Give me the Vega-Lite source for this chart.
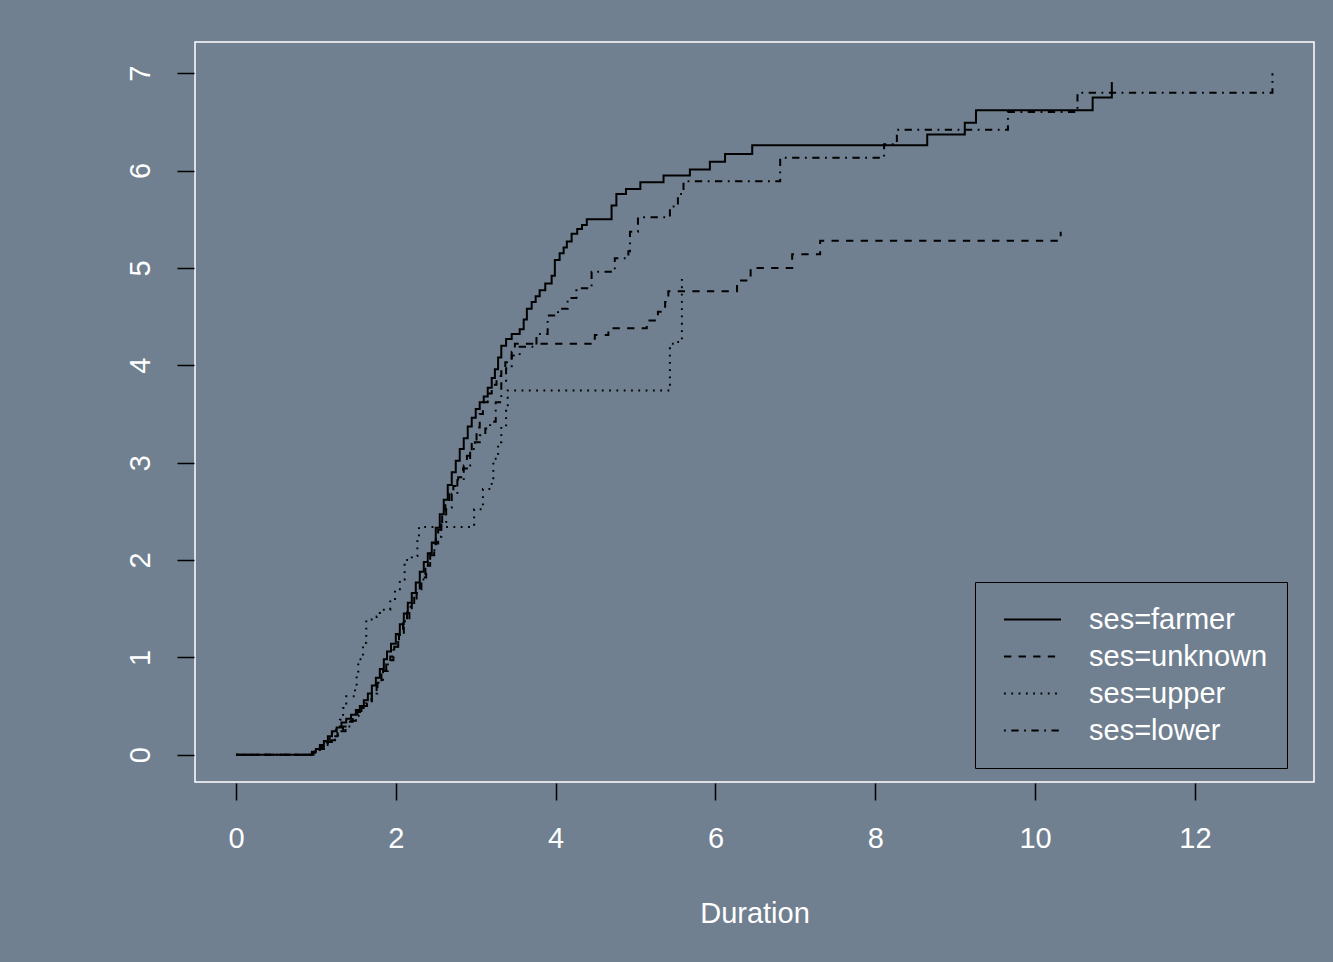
{
  "$schema": "https://vega.github.io/schema/vega-lite/v6.json",
  "width": 1119,
  "height": 740,
  "autosize": {"type": "none"},
  "padding": {"left": 195, "top": 42, "right": 19, "bottom": 180},
  "background": "#708090",
  "config": {
    "view": {"stroke": "white", "strokeWidth": 1.5},
    "font": "Liberation Sans"
  },
  "data": {
    "values": [
      {"ses": "farmer", "t": 0, "h": 0},
      {"ses": "farmer", "t": 0.88, "h": 0.0},
      {"ses": "farmer", "t": 0.95, "h": 0.03},
      {"ses": "farmer", "t": 1.0, "h": 0.06},
      {"ses": "farmer", "t": 1.05, "h": 0.1},
      {"ses": "farmer", "t": 1.1, "h": 0.14},
      {"ses": "farmer", "t": 1.15, "h": 0.19},
      {"ses": "farmer", "t": 1.2, "h": 0.24},
      {"ses": "farmer", "t": 1.26, "h": 0.28},
      {"ses": "farmer", "t": 1.32, "h": 0.33},
      {"ses": "farmer", "t": 1.38, "h": 0.37},
      {"ses": "farmer", "t": 1.44, "h": 0.41},
      {"ses": "farmer", "t": 1.5, "h": 0.46},
      {"ses": "farmer", "t": 1.55, "h": 0.5},
      {"ses": "farmer", "t": 1.6, "h": 0.56},
      {"ses": "farmer", "t": 1.65, "h": 0.63},
      {"ses": "farmer", "t": 1.7, "h": 0.71},
      {"ses": "farmer", "t": 1.75, "h": 0.79},
      {"ses": "farmer", "t": 1.8, "h": 0.88},
      {"ses": "farmer", "t": 1.85, "h": 0.98},
      {"ses": "farmer", "t": 1.89, "h": 1.06},
      {"ses": "farmer", "t": 1.94, "h": 1.14},
      {"ses": "farmer", "t": 2.0, "h": 1.24},
      {"ses": "farmer", "t": 2.05, "h": 1.34},
      {"ses": "farmer", "t": 2.1, "h": 1.45},
      {"ses": "farmer", "t": 2.15, "h": 1.56},
      {"ses": "farmer", "t": 2.2, "h": 1.66},
      {"ses": "farmer", "t": 2.25, "h": 1.77},
      {"ses": "farmer", "t": 2.3, "h": 1.88},
      {"ses": "farmer", "t": 2.35, "h": 1.98},
      {"ses": "farmer", "t": 2.4, "h": 2.07},
      {"ses": "farmer", "t": 2.45, "h": 2.18},
      {"ses": "farmer", "t": 2.5, "h": 2.33},
      {"ses": "farmer", "t": 2.55, "h": 2.47},
      {"ses": "farmer", "t": 2.6, "h": 2.62},
      {"ses": "farmer", "t": 2.65, "h": 2.77},
      {"ses": "farmer", "t": 2.7, "h": 2.9},
      {"ses": "farmer", "t": 2.75, "h": 3.02},
      {"ses": "farmer", "t": 2.8, "h": 3.14},
      {"ses": "farmer", "t": 2.85, "h": 3.25},
      {"ses": "farmer", "t": 2.9, "h": 3.37},
      {"ses": "farmer", "t": 2.95, "h": 3.46},
      {"ses": "farmer", "t": 3.0, "h": 3.55},
      {"ses": "farmer", "t": 3.05, "h": 3.62},
      {"ses": "farmer", "t": 3.1, "h": 3.68},
      {"ses": "farmer", "t": 3.15, "h": 3.77},
      {"ses": "farmer", "t": 3.2, "h": 3.87},
      {"ses": "farmer", "t": 3.24, "h": 3.96},
      {"ses": "farmer", "t": 3.28, "h": 4.08},
      {"ses": "farmer", "t": 3.32, "h": 4.2},
      {"ses": "farmer", "t": 3.38, "h": 4.27},
      {"ses": "farmer", "t": 3.45, "h": 4.32},
      {"ses": "farmer", "t": 3.55, "h": 4.37},
      {"ses": "farmer", "t": 3.6, "h": 4.47},
      {"ses": "farmer", "t": 3.64, "h": 4.58},
      {"ses": "farmer", "t": 3.7, "h": 4.65},
      {"ses": "farmer", "t": 3.75, "h": 4.71},
      {"ses": "farmer", "t": 3.8, "h": 4.77},
      {"ses": "farmer", "t": 3.87, "h": 4.84},
      {"ses": "farmer", "t": 3.95, "h": 4.92},
      {"ses": "farmer", "t": 3.99, "h": 5.08},
      {"ses": "farmer", "t": 4.05, "h": 5.15},
      {"ses": "farmer", "t": 4.1, "h": 5.21},
      {"ses": "farmer", "t": 4.14, "h": 5.27},
      {"ses": "farmer", "t": 4.2, "h": 5.35},
      {"ses": "farmer", "t": 4.27, "h": 5.4},
      {"ses": "farmer", "t": 4.33, "h": 5.44},
      {"ses": "farmer", "t": 4.39, "h": 5.5},
      {"ses": "farmer", "t": 4.7, "h": 5.64},
      {"ses": "farmer", "t": 4.76, "h": 5.76},
      {"ses": "farmer", "t": 4.88, "h": 5.81},
      {"ses": "farmer", "t": 5.06, "h": 5.88},
      {"ses": "farmer", "t": 5.35, "h": 5.95},
      {"ses": "farmer", "t": 5.68, "h": 6.01},
      {"ses": "farmer", "t": 5.93, "h": 6.09},
      {"ses": "farmer", "t": 6.12, "h": 6.17},
      {"ses": "farmer", "t": 6.46, "h": 6.26},
      {"ses": "farmer", "t": 8.65, "h": 6.37},
      {"ses": "farmer", "t": 9.12, "h": 6.49},
      {"ses": "farmer", "t": 9.26, "h": 6.62},
      {"ses": "farmer", "t": 10.72, "h": 6.75},
      {"ses": "farmer", "t": 10.96, "h": 6.91},

      {"ses": "unknown", "t": 0, "h": 0},
      {"ses": "unknown", "t": 0.9, "h": 0.0},
      {"ses": "unknown", "t": 0.97, "h": 0.03},
      {"ses": "unknown", "t": 1.05, "h": 0.08},
      {"ses": "unknown", "t": 1.12, "h": 0.13},
      {"ses": "unknown", "t": 1.2, "h": 0.19},
      {"ses": "unknown", "t": 1.27, "h": 0.24},
      {"ses": "unknown", "t": 1.34, "h": 0.29},
      {"ses": "unknown", "t": 1.4, "h": 0.34},
      {"ses": "unknown", "t": 1.46, "h": 0.39},
      {"ses": "unknown", "t": 1.52, "h": 0.44},
      {"ses": "unknown", "t": 1.59, "h": 0.5},
      {"ses": "unknown", "t": 1.64, "h": 0.57},
      {"ses": "unknown", "t": 1.7, "h": 0.65},
      {"ses": "unknown", "t": 1.76, "h": 0.74},
      {"ses": "unknown", "t": 1.82, "h": 0.83},
      {"ses": "unknown", "t": 1.88, "h": 0.93},
      {"ses": "unknown", "t": 1.93, "h": 1.01},
      {"ses": "unknown", "t": 1.98, "h": 1.11},
      {"ses": "unknown", "t": 2.04, "h": 1.23},
      {"ses": "unknown", "t": 2.09, "h": 1.35},
      {"ses": "unknown", "t": 2.14, "h": 1.46},
      {"ses": "unknown", "t": 2.2, "h": 1.58},
      {"ses": "unknown", "t": 2.26, "h": 1.7},
      {"ses": "unknown", "t": 2.32, "h": 1.82},
      {"ses": "unknown", "t": 2.38, "h": 1.94},
      {"ses": "unknown", "t": 2.43, "h": 2.05},
      {"ses": "unknown", "t": 2.48, "h": 2.17},
      {"ses": "unknown", "t": 2.53, "h": 2.31},
      {"ses": "unknown", "t": 2.58, "h": 2.46},
      {"ses": "unknown", "t": 2.62, "h": 2.59},
      {"ses": "unknown", "t": 2.67, "h": 2.68},
      {"ses": "unknown", "t": 2.72, "h": 2.76},
      {"ses": "unknown", "t": 2.78, "h": 2.85},
      {"ses": "unknown", "t": 2.84, "h": 2.94},
      {"ses": "unknown", "t": 2.89, "h": 3.07},
      {"ses": "unknown", "t": 2.95, "h": 3.22},
      {"ses": "unknown", "t": 3.01, "h": 3.36},
      {"ses": "unknown", "t": 3.05, "h": 3.5},
      {"ses": "unknown", "t": 3.09, "h": 3.62},
      {"ses": "unknown", "t": 3.15, "h": 3.71},
      {"ses": "unknown", "t": 3.2, "h": 3.8},
      {"ses": "unknown", "t": 3.26, "h": 3.89},
      {"ses": "unknown", "t": 3.32, "h": 3.97},
      {"ses": "unknown", "t": 3.37, "h": 4.03},
      {"ses": "unknown", "t": 3.45, "h": 4.14},
      {"ses": "unknown", "t": 3.49, "h": 4.22},
      {"ses": "unknown", "t": 4.49, "h": 4.31},
      {"ses": "unknown", "t": 4.66, "h": 4.38},
      {"ses": "unknown", "t": 5.14, "h": 4.46},
      {"ses": "unknown", "t": 5.28, "h": 4.55},
      {"ses": "unknown", "t": 5.37, "h": 4.65},
      {"ses": "unknown", "t": 5.41, "h": 4.76},
      {"ses": "unknown", "t": 6.27, "h": 4.87},
      {"ses": "unknown", "t": 6.44, "h": 5.0},
      {"ses": "unknown", "t": 6.96, "h": 5.14},
      {"ses": "unknown", "t": 7.31, "h": 5.28},
      {"ses": "unknown", "t": 10.32, "h": 5.37},

      {"ses": "upper", "t": 0, "h": 0},
      {"ses": "upper", "t": 0.92, "h": 0.0},
      {"ses": "upper", "t": 0.97, "h": 0.02},
      {"ses": "upper", "t": 1.04, "h": 0.07},
      {"ses": "upper", "t": 1.1, "h": 0.12},
      {"ses": "upper", "t": 1.15, "h": 0.17},
      {"ses": "upper", "t": 1.2, "h": 0.22},
      {"ses": "upper", "t": 1.25, "h": 0.29},
      {"ses": "upper", "t": 1.3, "h": 0.36},
      {"ses": "upper", "t": 1.34, "h": 0.48},
      {"ses": "upper", "t": 1.38, "h": 0.6},
      {"ses": "upper", "t": 1.49, "h": 0.69},
      {"ses": "upper", "t": 1.51, "h": 0.84},
      {"ses": "upper", "t": 1.53, "h": 0.98},
      {"ses": "upper", "t": 1.59, "h": 1.15},
      {"ses": "upper", "t": 1.63, "h": 1.39},
      {"ses": "upper", "t": 1.76, "h": 1.42},
      {"ses": "upper", "t": 1.8, "h": 1.49},
      {"ses": "upper", "t": 1.93, "h": 1.6},
      {"ses": "upper", "t": 1.99, "h": 1.7},
      {"ses": "upper", "t": 2.05, "h": 1.8},
      {"ses": "upper", "t": 2.11, "h": 2.0},
      {"ses": "upper", "t": 2.2, "h": 2.04},
      {"ses": "upper", "t": 2.27, "h": 2.21},
      {"ses": "upper", "t": 2.29, "h": 2.34},
      {"ses": "upper", "t": 2.98, "h": 2.52},
      {"ses": "upper", "t": 3.09, "h": 2.73},
      {"ses": "upper", "t": 3.2, "h": 2.81},
      {"ses": "upper", "t": 3.22, "h": 3.04},
      {"ses": "upper", "t": 3.28, "h": 3.21},
      {"ses": "upper", "t": 3.32, "h": 3.37},
      {"ses": "upper", "t": 3.38, "h": 3.59},
      {"ses": "upper", "t": 3.4, "h": 3.74},
      {"ses": "upper", "t": 5.43, "h": 4.22},
      {"ses": "upper", "t": 5.52, "h": 4.24},
      {"ses": "upper", "t": 5.58, "h": 4.92},

      {"ses": "lower", "t": 0, "h": 0},
      {"ses": "lower", "t": 0.92, "h": 0.0},
      {"ses": "lower", "t": 0.98, "h": 0.03},
      {"ses": "lower", "t": 1.04, "h": 0.06},
      {"ses": "lower", "t": 1.1, "h": 0.1},
      {"ses": "lower", "t": 1.17, "h": 0.15},
      {"ses": "lower", "t": 1.24, "h": 0.2},
      {"ses": "lower", "t": 1.3, "h": 0.24},
      {"ses": "lower", "t": 1.37, "h": 0.29},
      {"ses": "lower", "t": 1.44, "h": 0.35},
      {"ses": "lower", "t": 1.5, "h": 0.4},
      {"ses": "lower", "t": 1.57, "h": 0.48},
      {"ses": "lower", "t": 1.63, "h": 0.55},
      {"ses": "lower", "t": 1.7, "h": 0.63},
      {"ses": "lower", "t": 1.77, "h": 0.74},
      {"ses": "lower", "t": 1.84, "h": 0.86},
      {"ses": "lower", "t": 1.9, "h": 0.97},
      {"ses": "lower", "t": 1.97, "h": 1.11},
      {"ses": "lower", "t": 2.03, "h": 1.24},
      {"ses": "lower", "t": 2.1, "h": 1.37},
      {"ses": "lower", "t": 2.17, "h": 1.52},
      {"ses": "lower", "t": 2.23, "h": 1.66},
      {"ses": "lower", "t": 2.3, "h": 1.8},
      {"ses": "lower", "t": 2.37, "h": 1.96},
      {"ses": "lower", "t": 2.43, "h": 2.1},
      {"ses": "lower", "t": 2.5, "h": 2.24},
      {"ses": "lower", "t": 2.57, "h": 2.39},
      {"ses": "lower", "t": 2.63, "h": 2.54},
      {"ses": "lower", "t": 2.7, "h": 2.68},
      {"ses": "lower", "t": 2.77, "h": 2.82},
      {"ses": "lower", "t": 2.85, "h": 2.97},
      {"ses": "lower", "t": 2.93, "h": 3.14},
      {"ses": "lower", "t": 2.99, "h": 3.21},
      {"ses": "lower", "t": 3.05, "h": 3.28},
      {"ses": "lower", "t": 3.12, "h": 3.35},
      {"ses": "lower", "t": 3.18, "h": 3.42},
      {"ses": "lower", "t": 3.25, "h": 3.62},
      {"ses": "lower", "t": 3.32, "h": 3.83},
      {"ses": "lower", "t": 3.38, "h": 3.97},
      {"ses": "lower", "t": 3.45, "h": 4.1},
      {"ses": "lower", "t": 3.55, "h": 4.19},
      {"ses": "lower", "t": 3.76, "h": 4.32},
      {"ses": "lower", "t": 3.9, "h": 4.51},
      {"ses": "lower", "t": 4.03, "h": 4.58},
      {"ses": "lower", "t": 4.15, "h": 4.69},
      {"ses": "lower", "t": 4.26, "h": 4.79},
      {"ses": "lower", "t": 4.45, "h": 4.96},
      {"ses": "lower", "t": 4.74, "h": 5.1},
      {"ses": "lower", "t": 4.91, "h": 5.17},
      {"ses": "lower", "t": 4.93, "h": 5.37},
      {"ses": "lower", "t": 5.03, "h": 5.52},
      {"ses": "lower", "t": 5.43, "h": 5.63},
      {"ses": "lower", "t": 5.53, "h": 5.76},
      {"ses": "lower", "t": 5.6, "h": 5.89},
      {"ses": "lower", "t": 6.81, "h": 6.13},
      {"ses": "lower", "t": 8.11, "h": 6.27},
      {"ses": "lower", "t": 8.27, "h": 6.42},
      {"ses": "lower", "t": 9.66, "h": 6.6},
      {"ses": "lower", "t": 10.53, "h": 6.8},
      {"ses": "lower", "t": 12.97, "h": 7.0}
    ]
  },
  "mark": {"type": "line", "interpolate": "step-after", "strokeWidth": 2, "color": "black"},
  "encoding": {
    "x": {
      "field": "t", "type": "quantitative",
      "scale": {"domain": [-0.513, 13.49], "nice": false, "zero": false},
      "axis": {
        "values": [0, 2, 4, 6, 8, 10, 12],
        "grid": false, "domain": false,
        "tickColor": "black", "tickSize": 17, "tickWidth": 1.5, "offset": 1,
        "labelColor": "white", "labelFontSize": 29, "labelFont": "Liberation Sans",
        "labelBaseline": "middle", "labelPadding": 38, "labelFlush": false,
        "title": "Duration", "titleColor": "white", "titleFontSize": 29,
        "titleFont": "Liberation Sans", "titleFontWeight": "normal",
        "titleBaseline": "middle", "titleY": 130
      }
    },
    "y": {
      "field": "h", "type": "quantitative",
      "scale": {"domain": [-0.28, 7.32], "nice": false, "zero": false},
      "axis": {
        "values": [0, 1, 2, 3, 4, 5, 6, 7],
        "grid": false, "domain": false,
        "tickColor": "black", "tickSize": 17, "tickWidth": 1.5, "offset": 1,
        "labelColor": "white", "labelFontSize": 29, "labelFont": "Liberation Sans",
        "labelAngle": -90, "labelAlign": "center", "labelBaseline": "middle",
        "labelPadding": 37, "labelFlush": false,
        "title": null
      }
    },
    "strokeDash": {
      "field": "ses", "type": "nominal",
      "scale": {
        "domain": ["farmer", "unknown", "upper", "lower"],
        "range": [[1, 0], [7.3, 7.3], [1.8, 5.5], [1.8, 5.5, 7.3, 5.5]]
      },
      "legend": {
        "title": null,
        "orient": "none",
        "legendX": 780,
        "legendY": 540,
        "direction": "vertical",
        "strokeColor": "black",
        "padding": 19,
        "symbolOffset": 9,
        "symbolType": "stroke",
        "symbolSize": 3249,
        "symbolStrokeWidth": 2,
        "symbolStrokeColor": "black",
        "labelColor": "white",
        "labelFontSize": 29,
        "labelFont": "Liberation Sans",
        "labelOffset": 27,
        "labelLimit": 400,
        "clipHeight": 37,
        "rowPadding": 0,
        "labelExpr": "'ses=' + datum.label"
      }
    }
  }
}
